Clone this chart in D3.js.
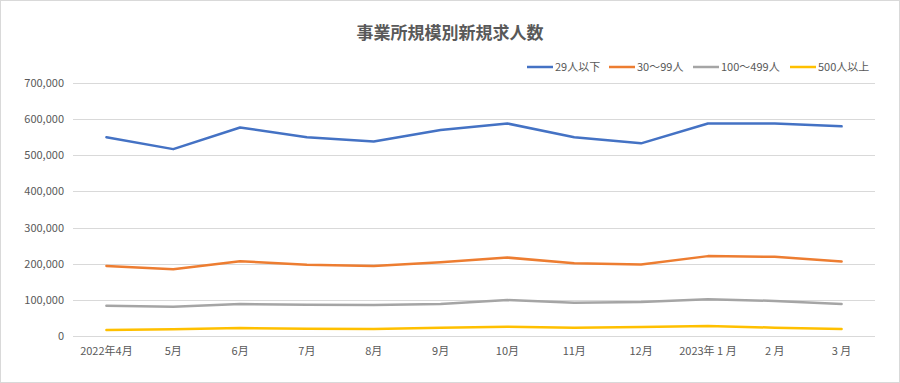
<!DOCTYPE html>
<html>
<head>
<meta charset="utf-8">
<script src="https://cdn.jsdelivr.net/npm/d3@7"></script>
<style>
  body { margin: 0; background: #fff; }
  text { font-family: "Noto Sans CJK JP", "Noto Sans", sans-serif; fill: #595959; }
</style>
</head>
<body>
<div id="chart"></div>
<script>
// 月ラベル
var months = ["2022年4月", "5月", "6月", "7月", "8月", "9月", "10月", "11月", "12月", "2023年 1 月", "2 月", "3 月"];
var seriesNames = ["29人以下", "30〜99人", "100〜499人", "500人以上"];
var small = [550000, 517000, 577000, 550000, 538000, 570000, 588000, 550000, 533000, 588000, 588000, 580000];
var mid = [194000, 185000, 207000, 197000, 194000, 204000, 217000, 201000, 198000, 221000, 219000, 206000];
var large = [84000, 81000, 88500, 86700, 86000, 88500, 99500, 92000, 94000, 102000, 97000, 88500];
var huge = [16600, 19000, 22000, 20000, 19500, 23000, 25800, 23000, 25000, 27700, 23000, 19500];
var yTicks = [0, 100000, 200000, 300000, 400000, 500000, 600000, 700000];

var colors = ["#4472C4", "#ED7D31", "#A5A5A5", "#FFC000"];
var allSeries = [small, mid, large, huge];

var svgWidth = 900;
var svgHeight = 383;
var margin = { top: 83, right: 25, bottom: 47, left: 73 };
var chartWidth = svgWidth - margin.left - margin.right;
var chartHeight = svgHeight - margin.top - margin.bottom;

var svg = d3.select("#chart")
  .append("svg")
  .attr("width", svgWidth)
  .attr("height", svgHeight);

// 外枠
svg.append("rect")
  .attr("x", 0.5).attr("y", 0.5)
  .attr("width", svgWidth - 1).attr("height", svgHeight - 1)
  .attr("fill", "#fff")
  .attr("stroke", "#d9d9d9");

var chartGroup = svg.append("g")
  .attr("transform", `translate(${margin.left}, ${margin.top})`);

var xScale = d3.scaleBand()
  .domain(months)
  .range([0, chartWidth]);

var yScale = d3.scaleLinear()
  .domain([0, 700000])
  .range([chartHeight, 0]);

// グリッド線
chartGroup.append("g")
  .selectAll("line")
  .data(yTicks)
  .enter()
  .append("line")
  .attr("x1", 0)
  .attr("x2", chartWidth)
  .attr("y1", d => Math.round(yScale(d)) + 0.5)
  .attr("y2", d => Math.round(yScale(d)) + 0.5)
  .attr("stroke", "#d9d9d9")
  .attr("stroke-width", 1);

var leftAxis = d3.axisLeft(yScale)
  .tickValues(yTicks)
  .tickFormat(d3.format(","))
  .tickSize(0)
  .tickPadding(9);

chartGroup.append("g")
  .call(leftAxis)
  .call(g => g.select(".domain").remove())
  .selectAll("text")
  .attr("font-size", "11px");

var bottomAxis = d3.axisBottom(xScale)
  .tickSize(0)
  .tickPadding(11);

chartGroup.append("g")
  .attr("transform", `translate(0, ${chartHeight})`)
  .call(bottomAxis)
  .call(g => g.select(".domain").remove())
  .selectAll("text")
  .attr("font-size", "11px");

var line = d3.line()
  .x((d, i) => xScale(months[i]) + xScale.bandwidth() / 2)
  .y(d => yScale(d));

allSeries.forEach(function(values, k) {
  chartGroup.append("path")
    .datum(values)
    .attr("d", line)
    .attr("fill", "none")
    .attr("stroke", colors[k])
    .attr("stroke-width", 2.5)
    .attr("stroke-linejoin", "round")
    .attr("stroke-linecap", "round");
});

// タイトル
svg.append("text")
  .attr("x", svgWidth / 2)
  .attr("y", 39)
  .attr("text-anchor", "middle")
  .attr("font-size", "17px")
  .attr("font-weight", "bold")
  .text("事業所規模別新規求人数");

// 凡例
var legendX = [527, 609, 693, 790];
var legend = svg.append("g");
seriesNames.forEach(function(name, k) {
  legend.append("line")
    .attr("x1", legendX[k])
    .attr("x2", legendX[k] + 26)
    .attr("y1", 67)
    .attr("y2", 67)
    .attr("stroke", colors[k])
    .attr("stroke-width", 2.5);
  legend.append("text")
    .attr("x", legendX[k] + 28)
    .attr("y", 71)
    .attr("font-size", "11px")
    .text(name);
});
</script>
</body>
</html>
